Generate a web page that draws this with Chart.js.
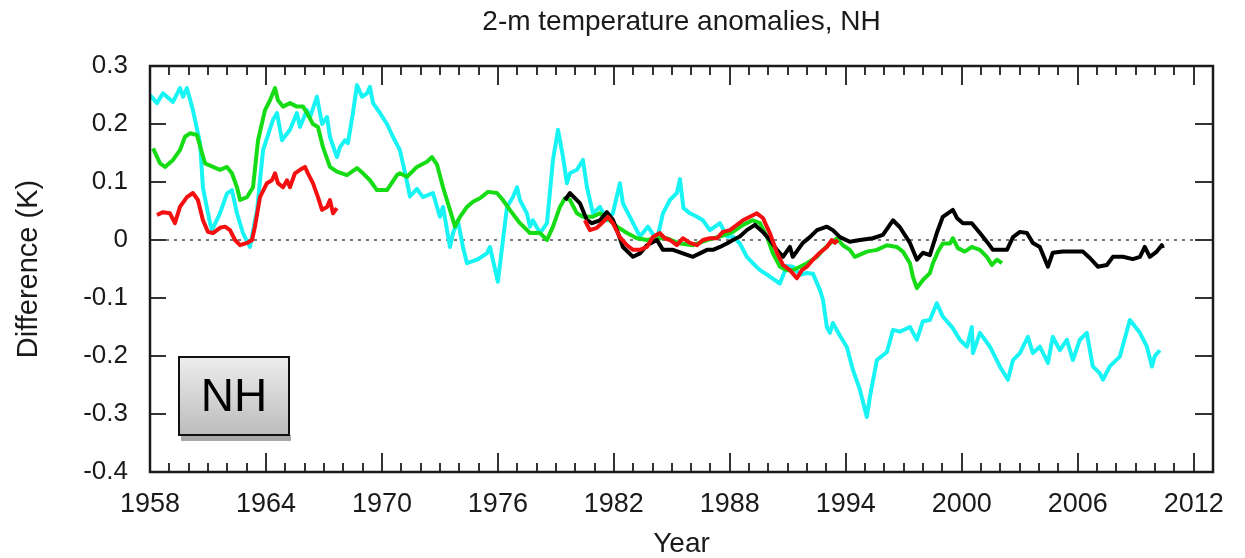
<!DOCTYPE html>
<html lang="en">
<head>
<meta charset="UTF-8" />
<title>2-m temperature anomalies, NH</title>
<style>
  html, body { margin: 0; padding: 0; background: #fff; }
  #chart { display: block; }
</style>
</head>
<body>
<canvas id="chart" width="1245" height="558"></canvas>
<script src="https://cdn.jsdelivr.net/npm/chart.js"></script>
<script>
const FONT = "'Liberation Sans', Arial, Helvetica, sans-serif";

// axis ticks
const xTicks = [1958, 1964, 1970, 1976, 1982, 1988, 1994, 2000, 2006, 2012];
const yTicks = [-0.4, -0.3, -0.2, -0.1, 0, 0.1, 0.2, 0.3];
const yTickLabels = ['-0.4', '-0.3', '-0.2', '-0.1', '0', '0.1', '0.2', '0.3'];

// reference line at zero
const zeroYears = [1958, 2013];
const zeroValues = [0, 0];

// cyan series
const cyanYears = [
  1958.00, 1958.36, 1958.67, 1959.19, 1959.55, 1959.71, 1959.91, 1960.22, 1960.59, 1960.74,
  1961.10, 1961.21, 1961.62, 1961.98, 1962.24, 1962.50, 1962.81, 1963.17, 1963.54, 1963.85,
  1964.36, 1964.57, 1964.83, 1965.24, 1965.60, 1965.76, 1966.12, 1966.28, 1966.64, 1966.90,
  1967.16, 1967.31, 1967.67, 1967.83, 1968.09, 1968.24, 1968.50, 1968.71, 1968.97, 1969.23,
  1969.38, 1969.54, 1969.90, 1970.26, 1970.57, 1970.93, 1971.30, 1971.45, 1971.81, 1972.12,
  1972.64, 1973.00, 1973.16, 1973.52, 1973.68, 1973.93, 1974.19, 1974.40, 1974.92, 1975.43,
  1975.59, 1975.74, 1976.00, 1976.47, 1976.78, 1976.99, 1977.14, 1977.50, 1977.66, 1977.81,
  1978.18, 1978.54, 1978.85, 1979.11, 1979.37, 1979.57, 1979.73, 1980.09, 1980.40, 1980.61,
  1980.92, 1981.28, 1981.64, 1981.95, 1982.31, 1982.47, 1982.83, 1983.35, 1983.76, 1984.23,
  1984.54, 1984.90, 1985.26, 1985.42, 1985.60, 1985.94, 1986.30, 1986.61, 1986.97, 1987.49,
  1987.85, 1988.16, 1988.52, 1988.88, 1989.19, 1989.56, 1990.07, 1990.59, 1990.95, 1991.26,
  1991.63, 1991.99, 1992.30, 1992.66, 1992.82, 1993.02, 1993.18, 1993.33, 1993.70, 1994.06,
  1994.37, 1994.73, 1995.09, 1995.25, 1995.61, 1996.13, 1996.44, 1996.80, 1997.32, 1997.68,
  1997.99, 1998.35, 1998.71, 1999.02, 1999.54, 1999.90, 2000.27, 2000.52, 2000.58, 2000.94,
  2001.46, 2001.97, 2002.39, 2002.65, 2003.01, 2003.42, 2003.68, 2004.04, 2004.46, 2004.71,
  2005.08, 2005.44, 2005.75, 2006.11, 2006.47, 2006.78, 2007.15, 2007.30, 2007.66, 2008.18,
  2008.70, 2009.22, 2009.58, 2009.84, 2009.99, 2010.25
];
const cyanValues = [
  0.250, 0.236, 0.253, 0.238, 0.262, 0.247, 0.262, 0.224, 0.167, 0.090,
  0.030, 0.017, 0.046, 0.080, 0.086, 0.046, 0.012, -0.012, 0.052, 0.155,
  0.207, 0.219, 0.172, 0.190, 0.219, 0.195, 0.224, 0.212, 0.247, 0.200,
  0.212, 0.178, 0.143, 0.160, 0.172, 0.167, 0.219, 0.267, 0.247, 0.253,
  0.264, 0.236, 0.219, 0.200, 0.178, 0.155, 0.100, 0.075, 0.088, 0.074,
  0.081, 0.040, 0.057, -0.012, 0.012, 0.034, -0.012, -0.040, -0.034, -0.023,
  -0.012, -0.034, -0.072, 0.057, 0.074, 0.091, 0.069, 0.046, 0.023, 0.034,
  0.012, 0.029, 0.138, 0.190, 0.143, 0.098, 0.115, 0.121, 0.138, 0.091,
  0.046, 0.057, 0.034, 0.046, 0.098, 0.063, 0.040, 0.006, 0.023, 0.000,
  0.046, 0.069, 0.081, 0.105, 0.055, 0.046, 0.040, 0.034, 0.017, 0.029,
  0.006, 0.006, -0.006, -0.029, -0.040, -0.052, -0.063, -0.075, -0.045, -0.046,
  -0.060, -0.057, -0.058, -0.086, -0.103, -0.150, -0.160, -0.143, -0.165, -0.185,
  -0.224, -0.258, -0.305, -0.270, -0.207, -0.193, -0.155, -0.158, -0.150, -0.172,
  -0.140, -0.138, -0.109, -0.132, -0.152, -0.172, -0.184, -0.150, -0.195, -0.160,
  -0.184, -0.218, -0.241, -0.207, -0.195, -0.167, -0.195, -0.184, -0.212, -0.167,
  -0.190, -0.172, -0.207, -0.172, -0.160, -0.218, -0.230, -0.241, -0.218, -0.201,
  -0.138, -0.160, -0.184, -0.218, -0.200, -0.190
];

// green series
const greenYears = [
  1958.16, 1958.52, 1958.78, 1959.19, 1959.55, 1959.81, 1960.07, 1960.43, 1960.69, 1960.85,
  1961.26, 1961.62, 1961.98, 1962.24, 1962.50, 1962.66, 1963.02, 1963.33, 1963.59, 1963.95,
  1964.21, 1964.47, 1964.62, 1964.88, 1965.24, 1965.60, 1965.92, 1966.12, 1966.43, 1966.69,
  1966.95, 1967.31, 1967.67, 1968.19, 1968.71, 1969.02, 1969.38, 1969.74, 1970.26, 1970.78,
  1970.93, 1971.30, 1971.81, 1972.33, 1972.59, 1972.85, 1973.16, 1973.52, 1973.78, 1974.04,
  1974.40, 1974.71, 1975.07, 1975.49, 1975.95, 1976.26, 1976.62, 1977.14, 1977.66, 1978.18,
  1978.54, 1978.85, 1979.21, 1979.47, 1979.73, 1980.09, 1980.40, 1980.92, 1981.28, 1981.64,
  1982.16, 1982.68, 1983.19, 1983.71, 1984.23, 1984.75, 1985.42, 1986.09, 1986.82, 1987.49,
  1988.16, 1988.68, 1989.19, 1989.56, 1989.92, 1990.23, 1990.59, 1990.95, 1991.26, 1991.63,
  1991.99, 1992.51, 1992.82, 1993.18, 1993.54, 1993.85, 1994.21, 1994.47, 1995.09, 1995.61,
  1996.13, 1996.64, 1996.96, 1997.32, 1997.47, 1997.68, 1997.99, 1998.35, 1998.51, 1998.77,
  1999.02, 1999.39, 1999.54, 1999.80, 2000.16, 2000.52, 2000.94, 2001.30, 2001.56, 2001.82,
  2002.08
];
const greenValues = [
  0.158, 0.132, 0.126, 0.138, 0.155, 0.178, 0.184, 0.181, 0.150, 0.132,
  0.126, 0.121, 0.126, 0.115, 0.091, 0.069, 0.074, 0.091, 0.172, 0.224,
  0.241, 0.262, 0.241, 0.230, 0.236, 0.230, 0.230, 0.219, 0.200, 0.195,
  0.160, 0.126, 0.118, 0.112, 0.124, 0.115, 0.103, 0.086, 0.086, 0.112,
  0.115, 0.109, 0.126, 0.135, 0.143, 0.130, 0.091, 0.052, 0.023, 0.040,
  0.057, 0.066, 0.072, 0.083, 0.081, 0.069, 0.052, 0.029, 0.012, 0.012,
  0.000, 0.023, 0.057, 0.072, 0.069, 0.046, 0.040, 0.040, 0.046, 0.038,
  0.023, 0.012, 0.003, 0.000, 0.003, 0.003, -0.006, -0.009, 0.000, 0.006,
  0.014, 0.026, 0.034, 0.029, 0.006, -0.023, -0.046, -0.052, -0.052, -0.046,
  -0.040, -0.029, -0.017, -0.006, 0.003, -0.009, -0.017, -0.029, -0.020, -0.017,
  -0.009, -0.012, -0.020, -0.040, -0.063, -0.083, -0.069, -0.057, -0.040, -0.020,
  -0.006, -0.006, 0.003, -0.014, -0.020, -0.012, -0.017, -0.029, -0.043, -0.034,
  -0.040
];

// black series
const blackYears = [
  1979.47, 1979.73, 1980.25, 1980.61, 1980.87, 1981.28, 1981.64, 1981.95, 1982.16, 1982.47,
  1982.99, 1983.35, 1983.71, 1984.23, 1984.54, 1985.06, 1985.57, 1986.09, 1986.45, 1986.82,
  1987.13, 1987.49, 1987.85, 1988.16, 1988.52, 1988.88, 1989.30, 1989.71, 1990.07, 1990.44,
  1990.75, 1991.11, 1991.26, 1991.52, 1991.78, 1992.14, 1992.51, 1993.02, 1993.33, 1993.70,
  1994.21, 1994.73, 1995.40, 1995.92, 1996.44, 1996.80, 1997.32, 1997.68, 1997.99, 1998.35,
  1998.71, 1999.02, 1999.54, 1999.75, 2000.06, 2000.52, 2000.94, 2001.35, 2001.61, 2001.97,
  2002.34, 2002.65, 2003.01, 2003.37, 2003.68, 2004.04, 2004.46, 2004.71, 2005.23, 2005.75,
  2006.27, 2006.63, 2007.04, 2007.51, 2007.82, 2008.34, 2008.85, 2009.22, 2009.47, 2009.73,
  2010.09, 2010.35, 2010.41
];
const blackValues = [
  0.069, 0.081, 0.063, 0.034, 0.029, 0.034, 0.048, 0.035, 0.017, -0.012,
  -0.029, -0.023, -0.009, 0.000, -0.017, -0.017, -0.023, -0.029, -0.023, -0.017,
  -0.017, -0.012, -0.006, 0.000, 0.006, 0.017, 0.026, 0.014, 0.000, -0.017,
  -0.029, -0.012, -0.029, -0.017, -0.005, 0.005, 0.017, 0.023, 0.017, 0.005,
  -0.003, 0.000, 0.003, 0.009, 0.034, 0.022, -0.005, -0.034, -0.022, -0.026,
  0.012, 0.040, 0.052, 0.038, 0.029, 0.029, 0.012, -0.005, -0.017, -0.017,
  -0.017, 0.005, 0.014, 0.012, -0.005, -0.012, -0.046, -0.022, -0.020, -0.020,
  -0.020, -0.031, -0.046, -0.043, -0.029, -0.029, -0.033, -0.029, -0.012, -0.029,
  -0.020, -0.009, -0.014
];

// red series, two separate periods
const redEarlyYears = [
  1958.36, 1958.67, 1959.03, 1959.29, 1959.55, 1959.91, 1960.22, 1960.48, 1960.74, 1961.00,
  1961.26, 1961.62, 1961.88, 1962.14, 1962.40, 1962.66, 1963.02, 1963.28, 1963.43, 1963.69,
  1964.05, 1964.31, 1964.47, 1964.62, 1964.88, 1965.09, 1965.24, 1965.50, 1965.76, 1966.02,
  1966.17, 1966.43, 1966.69, 1966.90, 1967.16, 1967.31, 1967.47, 1967.67
];
const redEarlyValues = [
  0.043, 0.048, 0.046, 0.029, 0.057, 0.074, 0.081, 0.069, 0.034, 0.014,
  0.012, 0.021, 0.023, 0.017, 0.000, -0.009, -0.005, 0.000, 0.023, 0.074,
  0.098, 0.103, 0.115, 0.098, 0.091, 0.103, 0.091, 0.115, 0.121, 0.126,
  0.115, 0.098, 0.074, 0.052, 0.057, 0.069, 0.046, 0.055
];
const redLateYears = [
  1980.50, 1980.76, 1981.12, 1981.44, 1981.69, 1981.95, 1982.31, 1982.68, 1982.99, 1983.35,
  1983.71, 1984.02, 1984.38, 1984.64, 1984.90, 1985.26, 1985.57, 1985.94, 1986.30, 1986.61,
  1986.97, 1987.33, 1987.64, 1988.01, 1988.37, 1988.68, 1989.04, 1989.40, 1989.71, 1990.07,
  1990.44, 1990.75, 1991.11, 1991.47, 1991.73, 1991.99, 1992.30, 1992.66, 1993.02, 1993.28,
  1993.44, 1993.59
];
const redLateValues = [
  0.034, 0.017, 0.021, 0.031, 0.040, 0.029, 0.005, -0.009, -0.017, -0.017,
  -0.012, 0.005, 0.012, 0.003, 0.000, -0.009, 0.003, -0.005, -0.009, 0.000,
  0.003, 0.003, 0.014, 0.017, 0.026, 0.034, 0.040, 0.046, 0.038, 0.012,
  -0.022, -0.043, -0.052, -0.066, -0.052, -0.046, -0.034, -0.022, -0.012, 0.000,
  -0.005, 0.000
];

function points(xs, ys) {
  return xs.map((x, i) => ({ x: x, y: ys[i] }));
}

function series(values, years, color, order) {
  return {
    data: points(years, values),
    borderColor: color,
    borderWidth: 4,
    borderJoinStyle: 'round',
    pointRadius: 0,
    tension: 0,
    order: order
  };
}

// frame with inward ticks on all four sides, title and the region tag
const decorations = {
  id: 'decorations',
  afterDatasetsDraw(chart) {
    const ctx = chart.ctx;
    const { left, right, top, bottom } = chart.chartArea;
    const xs = chart.scales.x;
    const ys = chart.scales.y;

    ctx.save();
    ctx.strokeStyle = '#333';
    ctx.lineWidth = 2;
    ctx.beginPath();
    for (let yr = 1958; yr <= 2013; yr++) {
      const px = Math.round(xs.getPixelForValue(yr));
      const len = xTicks.includes(yr) ? 19 : 9;
      ctx.moveTo(px, bottom);
      ctx.lineTo(px, bottom - len);
      ctx.moveTo(px, top);
      ctx.lineTo(px, top + len);
    }
    yTicks.forEach(v => {
      const py = Math.round(ys.getPixelForValue(v));
      ctx.moveTo(left, py);
      ctx.lineTo(left + 16, py);
      ctx.moveTo(right, py);
      ctx.lineTo(right - 18, py);
    });
    ctx.stroke();

    ctx.strokeStyle = '#1a1a1a';
    ctx.lineWidth = 2.5;
    ctx.strokeRect(left, top, right - left, bottom - top);

    // title
    ctx.fillStyle = '#1a1a1a';
    ctx.font = '28px ' + FONT;
    ctx.textAlign = 'center';
    ctx.textBaseline = 'middle';
    ctx.fillText('2-m temperature anomalies, NH', (left + right) / 2, 22);

    // "NH" tag
    const bx = left + 29, by = bottom - 115, bw = 110, bh = 78;
    ctx.fillStyle = '#a8a8a8';
    ctx.fillRect(bx + 2, by + bh, bw, 6);
    const grad = ctx.createLinearGradient(0, by, 0, by + bh);
    grad.addColorStop(0, '#ededed');
    grad.addColorStop(1, '#bcbcbc');
    ctx.fillStyle = grad;
    ctx.fillRect(bx, by, bw, bh);
    ctx.strokeStyle = '#111';
    ctx.lineWidth = 2;
    ctx.strokeRect(bx, by, bw, bh);
    ctx.fillStyle = '#000';
    ctx.font = '46px ' + FONT;
    ctx.fillText('NH', bx + bw / 2, by + bh / 2 + 2);
    ctx.restore();
  }
};

new Chart(document.getElementById('chart'), {
  type: 'line',
  data: {
    datasets: [
      {
        data: points(zeroYears, zeroValues),
        borderColor: '#7a7a7a',
        borderWidth: 2,
        borderDash: [3, 5],
        pointRadius: 0,
        order: 6
      },
      series(cyanValues, cyanYears, '#18f4f4', 5),
      series(greenValues, greenYears, '#16dc16', 4),
      series(blackValues, blackYears, '#000000', 3),
      series(redEarlyValues, redEarlyYears, '#f41010', 2),
      series(redLateValues, redLateYears, '#f41010', 1)
    ]
  },
  options: {
    responsive: false,
    animation: false,
    layout: { padding: { top: 66, right: 32, left: 0, bottom: 0 } },
    plugins: { legend: { display: false }, tooltip: { enabled: false } },
    scales: {
      x: {
        type: 'linear',
        min: 1958,
        max: 2013,
        afterBuildTicks: s => { s.ticks = xTicks.map(v => ({ value: v })); },
        afterFit: s => { s.height = 86; },
        grid: { display: false, drawTicks: false },
        border: { display: false },
        ticks: {
          autoSkip: false,
          maxRotation: 0,
          padding: 16,
          color: '#1a1a1a',
          font: { family: FONT, size: 27 },
          callback: v => String(v)
        },
        title: {
          display: true,
          text: 'Year',
          color: '#1a1a1a',
          font: { family: FONT, size: 28, lineHeight: 1 },
          padding: { top: 0, bottom: 0 }
        }
      },
      y: {
        type: 'linear',
        min: -0.4,
        max: 0.3,
        afterBuildTicks: s => { s.ticks = yTicks.map(v => ({ value: v })); },
        afterFit: s => { s.width = 150; },
        grid: { display: false, drawTicks: false },
        border: { display: false },
        ticks: {
          autoSkip: false,
          padding: 22,
          color: '#1a1a1a',
          font: { family: FONT, size: 26 },
          callback: (v, i) => yTickLabels[i]
        },
        title: {
          display: true,
          text: 'Difference (K)',
          color: '#1a1a1a',
          font: { family: FONT, size: 29, lineHeight: 1.2 },
          padding: { top: 12, bottom: 0 }
        }
      }
    }
  },
  plugins: [decorations]
});
</script>
</body>
</html>
